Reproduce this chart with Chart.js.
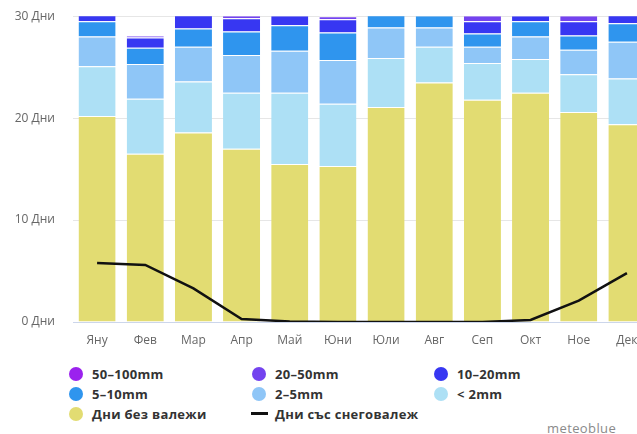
<!DOCTYPE html>
<html>
<head>
<meta charset="utf-8">
<script src="https://cdn.jsdelivr.net/npm/chart.js@4"></script>
<style>
  body { margin: 0; background: #fff; width: 637px; height: 434px; overflow: hidden; position: relative; font-family: "Open Sans", sans-serif; }
  #wrap { position: absolute; left: 0; top: -9px; width: 660px; height: 361px; }
  #legend { position: absolute; left: 68px; top: 364px; display: grid; grid-template-columns: 183px 182px 180px; row-gap: 1px; }
  .item { display: flex; align-items: center; height: 19px; font-size: 13px; font-weight: bold; color: #333; letter-spacing: 0.3px; }
  .dot { width: 14px; height: 14px; border-radius: 50%; margin-right: 9px; margin-left: 1px; }
  .dash { width: 17px; height: 3px; background: #111; margin-right: 7px; margin-left: 0; }
  #brand { position: absolute; left: 547px; top: 419px; font-size: 13px; color: #8a8a8a; letter-spacing: 0.4px; }
</style>
</head>
<body>
<div id="wrap"><canvas id="rainChart"></canvas></div>
<div id="legend"></div>
<div id="brand">meteoblue</div>
<script>
const months = ['Яну', 'Фев', 'Мар', 'Апр', 'Май', 'Юни', 'Юли', 'Авг', 'Сеп', 'Окт', 'Ное', 'Дек'];
const dryDays = [20.2, 16.5, 18.6, 17.0, 15.5, 15.3, 21.1, 23.5, 21.8, 22.5, 20.6, 19.4];
const below2 = [4.9, 5.4, 5.0, 5.5, 7.0, 6.1, 4.8, 3.5, 3.6, 3.3, 3.7, 4.5];
const mm2to5 = [2.9, 3.4, 3.4, 3.7, 4.1, 4.3, 3.0, 1.9, 1.6, 2.2, 2.4, 3.6];
const mm5to10 = [1.5, 1.6, 1.8, 2.3, 2.5, 2.7, 1.3, 1.2, 1.3, 1.5, 1.4, 1.8];
const mm10to20 = [0.7, 1.0, 1.4, 1.3, 1.0, 1.3, 0, 0, 1.2, 0.6, 1.4, 0.9];
const mm20to50 = [0, 0.2, 0, 0.3, 0, 0.3, 0, 0, 0.6, 0, 0.6, 0];
const mm50to100 = [0, 0, 0, 0, 0, 0, 0, 0, 0, 0, 0, 0];
const snowDays = [5.8, 5.6, 3.3, 0.3, 0.05, 0, 0, 0, 0, 0.2, 2.1, 4.8];

function bar(label, data, color) {
    return {
        type: 'bar', label: label, data: data, backgroundColor: color,
        borderColor: '#ffffff', borderWidth: {top: 1, bottom: 0, left: 0, right: 0},
        borderSkipped: false, stack: 'rain', order: 1,
        barPercentage: 0.77, categoryPercentage: 1
    };
}

const datasets = [
    bar('Дни без валежи', dryDays, '#e2dc72'),
    bar('< 2mm', below2, '#ade0f5'),
    bar('2–5mm', mm2to5, '#8fc6f7'),
    bar('5–10mm', mm5to10, '#2f95ee'),
    bar('10–20mm', mm10to20, '#3737f2'),
    bar('20–50mm', mm20to50, '#7443ef'),
    bar('50–100mm', mm50to100, '#9b22ee'),
    {
        type: 'line', label: 'Дни със снеговалеж', data: snowDays,
        borderColor: '#111111', borderWidth: 2.5, pointRadius: 0,
        tension: 0, stack: 'snow', order: 0, fill: false
    }
];

const chart = new Chart(document.getElementById('rainChart'), {
    data: { labels: months, datasets: datasets },
    options: {
        responsive: true,
        maintainAspectRatio: false,
        animation: false,
        layout: { padding: { top: 7, right: 9, left: 0, bottom: 0 } },
        plugins: { legend: { display: false }, tooltip: { enabled: false } },
        scales: {
            x: {
                stacked: true,
                grid: { display: false },
                border: { color: '#ccd6eb' },
                ticks: { color: '#666', font: { family: 'Open Sans', size: 12 }, padding: 3 },
                afterFit: s => { s.height = 30; }
            },
            y: {
                stacked: true,
                min: 0, max: 30,
                grid: { color: '#e6e6e6', drawTicks: false },
                border: { display: false },
                ticks: {
                    stepSize: 10, color: '#666', padding: 18,
                    font: { family: 'Open Sans', size: 12 },
                    callback: v => v + ' Дни'
                },
                afterFit: s => { s.width = 73; }
            }
        }
    }
});

// legend in the order of the reference, built from the datasets
const legendOrder = ['50–100mm', '20–50mm', '10–20mm', '5–10mm', '2–5mm', '< 2mm', 'Дни без валежи', 'Дни със снеговалеж'];
const legend = document.getElementById('legend');
legendOrder.forEach(name => {
    const ds = chart.data.datasets.find(d => d.label === name);
    const el = document.createElement('div');
    el.className = 'item';
    const mark = document.createElement('span');
    if (ds.type === 'line') {
        mark.className = 'dash';
    } else {
        mark.className = 'dot';
        mark.style.background = ds.backgroundColor;
    }
    el.appendChild(mark);
    el.appendChild(document.createTextNode(name));
    legend.appendChild(el);
});
</script>
</body>
</html>
